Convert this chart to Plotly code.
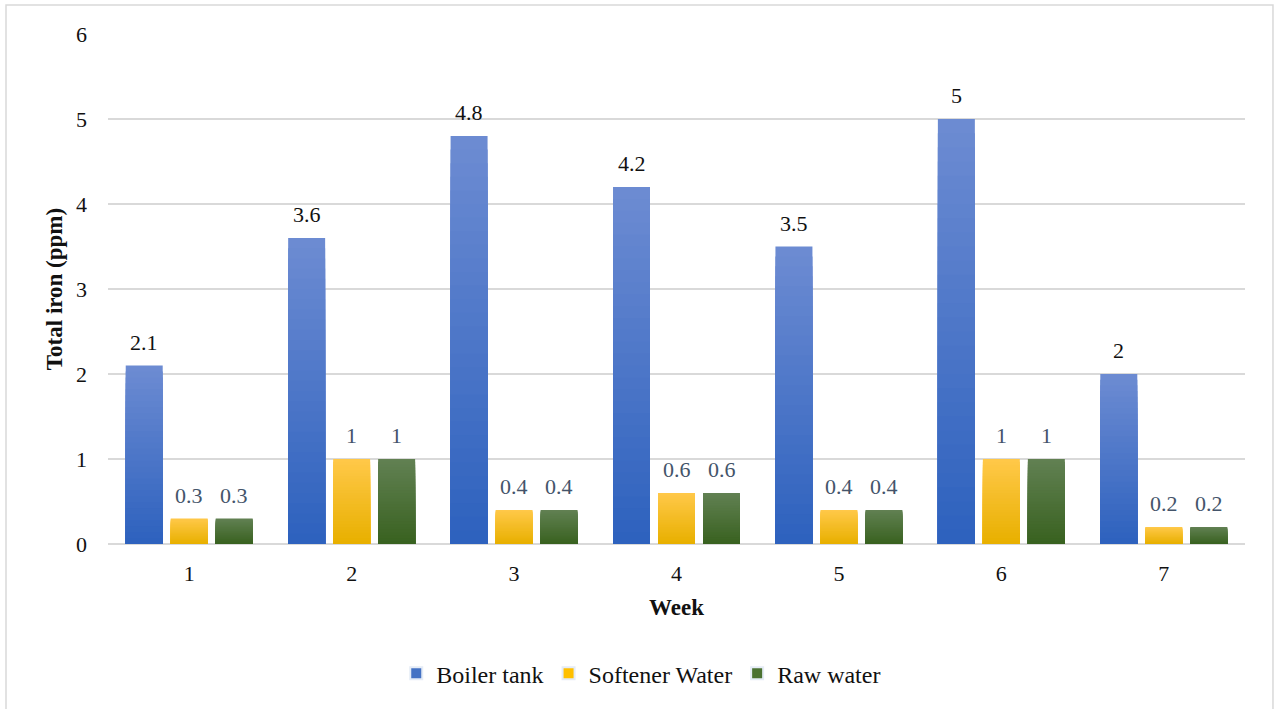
import plotly.graph_objects as go

# Weekly total iron readings (ppm)
weeks = [1, 2, 3, 4, 5, 6, 7]
series_names = ["Boiler tank", "Softener Water", "Raw water"]
boiler_tank = [2.1, 3.6, 4.8, 4.2, 3.5, 5, 2]
softener_water = [0.3, 1, 0.4, 0.6, 0.4, 1, 0.2]
raw_water = [0.3, 1, 0.4, 0.6, 0.4, 1, 0.2]

# Gradient end colours per series (top, bottom) and label colours
grad_colors = [
    ((108, 139, 210), (46, 98, 190)),
    ((255, 200, 72), (232, 176, 0)),
    ((97, 128, 82), (57, 98, 32)),
]
legend_colors = ["#4472c4", "#ffc000", "#4b7232"]
label_colors = ["#111111", "#44546a", "#44546a"]
label_xshift = [-45, 0, 45]

FONT = "Times New Roman, Liberation Serif, serif"
SIZE = 22
TITLE_SIZE = 23
LEGEND_SIZE = 24
N_LAYERS = 30

fig = go.Figure()


def mix(c0, c1, t):
    return "rgb({},{},{})".format(*[round(a + (b - a) * t) for a, b in zip(c0, c1)])


for i, (name, vals) in enumerate(zip(series_names, [boiler_tank, softener_water, raw_water])):
    top, bottom = grad_colors[i]
    # layers drawn in place: each shorter layer is darker, giving a top-to-bottom gradient
    for k in range(N_LAYERS):
        frac = 1 - k / N_LAYERS
        fig.add_trace(go.Bar(
            x=weeks,
            y=[v * frac for v in vals],
            name=name,
            offsetgroup=str(i),
            legendgroup=name,
            showlegend=False,
            marker=dict(color=mix(top, bottom, k / (N_LAYERS - 1)), line=dict(width=0)),
            hoverinfo="skip",
        ))
    # legend entry
    fig.add_trace(go.Bar(
        x=[None], y=[None], name=name, offsetgroup=str(i), legendgroup=name,
        marker=dict(color=legend_colors[i]), showlegend=True,
    ))
    for w, v in zip(weeks, vals):
        fig.add_annotation(
            x=w, y=v, text=f"{v:g}", showarrow=False, xshift=label_xshift[i],
            yanchor="bottom", yshift=9,
            font=dict(family=FONT, size=SIZE, color=label_colors[i]),
        )

# outer chart border
fig.add_shape(type="rect", xref="paper", yref="paper",
              x0=-0.0897, x1=1.0246, y0=-0.34, y1=1.0569,
              line=dict(color="#d9d9d9", width=1.5), fillcolor="rgba(0,0,0,0)", layer="below")

fig.update_layout(
    width=1274, height=709,
    margin=dict(l=108, r=29, t=34, b=165),
    paper_bgcolor="white", plot_bgcolor="white",
    barmode="group", bargap=0.169, bargroupgap=0.178,
    font=dict(family=FONT, size=SIZE, color="#111111"),
    showlegend=True,
    legend=dict(orientation="h", x=0.469, xanchor="center", y=-0.21, yanchor="top",
                font=dict(family=FONT, size=LEGEND_SIZE, color="#111111"),
                itemsizing="constant", traceorder="normal", itemwidth=30),
    xaxis=dict(
        tickmode="array", tickvals=weeks, ticktext=[str(w) for w in weeks],
        range=[0.5, 7.5], showgrid=False, showline=False, zeroline=False,
        ticks="", ticklabelstandoff=14,
        tickfont=dict(family=FONT, size=SIZE, color="#111111"),
        title=dict(text="<b>Week</b>", font=dict(family=FONT, size=TITLE_SIZE, color="#111111"), standoff=13),
    ),
    yaxis=dict(
        range=[0, 6], dtick=1, showgrid=True, gridcolor="#d9d9d9", gridwidth=1.5,
        zeroline=True, zerolinecolor="#d9d9d9", zerolinewidth=1.5,
        showline=False, ticks="", ticklabelstandoff=20,
        tickfont=dict(family=FONT, size=SIZE, color="#111111"),
        title=dict(text="<b>Total iron (ppm)</b>", font=dict(family=FONT, size=TITLE_SIZE, color="#111111"), standoff=6),
    ),
)

fig.write_html("out.html")
